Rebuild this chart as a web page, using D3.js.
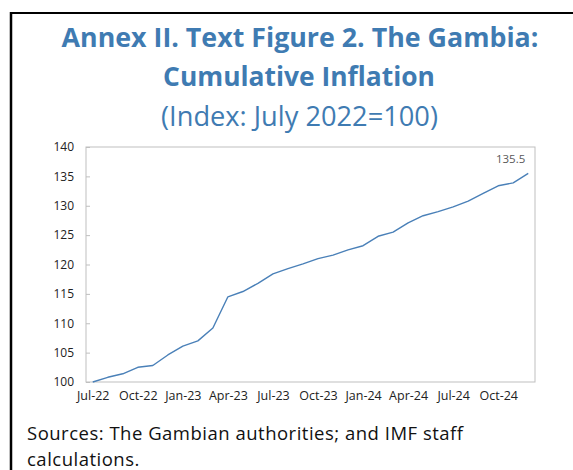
<!DOCTYPE html>
<html>
<head>
<meta charset="utf-8">
<script src="https://cdn.jsdelivr.net/npm/d3@7"></script>
<style>
html, body { margin: 0; padding: 0; background: #fff; }
svg { display: block; }
</style>
</head>
<body>
<svg id="chart" width="573" height="470"></svg>
<script>
// ---- data ----
const months = ["Jul-22","Aug-22","Sep-22","Oct-22","Nov-22","Dec-22",
  "Jan-23","Feb-23","Mar-23","Apr-23","May-23","Jun-23",
  "Jul-23","Aug-23","Sep-23","Oct-23","Nov-23","Dec-23",
  "Jan-24","Feb-24","Mar-24","Apr-24","May-24","Jun-24",
  "Jul-24","Aug-24","Sep-24","Oct-24","Nov-24","Dec-24"];
const cumulativeIndex = [100.0,100.8,101.4,102.5,102.8,104.6,
  106.1,107.0,109.2,114.5,115.4,116.8,
  118.4,119.3,120.1,121.0,121.6,122.5,
  123.2,124.8,125.5,127.1,128.3,129.0,
  129.8,130.8,132.1,133.4,133.9,135.5];
const xTickLabels = ["Jul-22","Oct-22","Jan-23","Apr-23","Jul-23","Oct-23","Jan-24","Apr-24","Jul-24","Oct-24"];
const yTicks = [100,105,110,115,120,125,130,135,140];
const titleLines = ["Annex II. Text Figure 2. The Gambia:", "Cumulative Inflation"];
const subtitle = "(Index: July 2022=100)";
const sourceLines = ["Sources: The Gambian authorities; and IMF staff", "calculations."];
const lastLabel = "135.5";

// ---- layout ----
const svg = d3.select("#chart");
const blue = "#3f7bb2";
const font = "'Open Sans', 'Noto Sans', sans-serif";
const plot = {left: 86, right: 535, top: 147, bottom: 382};

// frame (page box)
svg.append("line").attr("x1", 11).attr("x2", 573).attr("y1", 13).attr("y2", 13)
  .attr("stroke", "#000").attr("stroke-width", 2);
svg.append("line").attr("x1", 11).attr("x2", 11).attr("y1", 12).attr("y2", 470)
  .attr("stroke", "#000").attr("stroke-width", 2.5);

function fitText(sel, targetWidth) {
  const fs = parseFloat(sel.attr("font-size"));
  const w = sel.node().getComputedTextLength();
  sel.attr("font-size", fs * targetWidth / w);
}

// title
const t1 = svg.append("text").attr("x", 300).attr("y", 47).attr("text-anchor", "middle")
  .attr("font-family", font).attr("font-weight", 700).attr("font-size", 24)
  .attr("fill", blue).text(titleLines[0]);
fitText(t1, 477);
const t2 = svg.append("text").attr("x", 299).attr("y", 86).attr("text-anchor", "middle")
  .attr("font-family", font).attr("font-weight", 700).attr("font-size", 24)
  .attr("fill", blue).text(titleLines[1]);
fitText(t2, 272);
const t3 = svg.append("text").attr("x", 299.5).attr("y", 126).attr("text-anchor", "middle")
  .attr("font-family", font).attr("font-weight", 400).attr("font-size", 24)
  .attr("fill", blue).text(subtitle);
fitText(t3, 277);

// scales
const x = d3.scalePoint().domain(months).range([plot.left, plot.right]).padding(0.45);
const y = d3.scaleLinear().domain([100, 140]).range([plot.bottom, plot.top]);

// plot frame
svg.append("rect").attr("x", plot.left).attr("y", plot.top)
  .attr("width", plot.right - plot.left).attr("height", plot.bottom - plot.top)
  .attr("fill", "none").attr("stroke", "#bfbfbf").attr("stroke-width", 1);

// y axis
const yAxis = d3.axisRight(y).tickValues(yTicks).tickSize(4).tickFormat(d3.format("d"));
const gy = svg.append("g").attr("transform", `translate(${plot.left},0)`).call(yAxis);
gy.select(".domain").remove();
gy.selectAll(".tick line").attr("stroke", "#bfbfbf");
gy.selectAll(".tick text").attr("x", -12).attr("text-anchor", "end")
  .attr("font-family", font).attr("font-size", 12).attr("fill", "#222");

// x axis
const xAxis = d3.axisBottom(x).tickValues(xTickLabels).tickSize(0);
const gx = svg.append("g").attr("transform", `translate(0,${plot.bottom})`).call(xAxis);
gx.select(".domain").remove();
gx.selectAll(".tick text").attr("dy", "0.71em").attr("y", 9)
  .attr("font-family", font).attr("font-size", 12.5).attr("fill", "#222");

// line
const line = d3.line().x((d, i) => x(months[i])).y(d => y(d));
svg.append("path").datum(cumulativeIndex).attr("d", line)
  .attr("fill", "none").attr("stroke", "#4a80b8").attr("stroke-width", 1.4)
  .attr("stroke-linejoin", "round");

// last value label
const lastI = cumulativeIndex.length - 1;
svg.append("text").attr("x", x(months[lastI]) - 3).attr("y", y(cumulativeIndex[lastI]) - 10)
  .attr("text-anchor", "end").attr("font-family", font).attr("font-size", 11.5)
  .attr("fill", "#595959").text(lastLabel);

// sources
svg.append("text").attr("x", 27).attr("y", 440)
  .attr("font-family", font).attr("font-size", 18.5).attr("letter-spacing", 0.5)
  .attr("fill", "#111").text(sourceLines[0]);
svg.append("text").attr("x", 27).attr("y", 465.5)
  .attr("font-family", font).attr("font-size", 18.5).attr("letter-spacing", 0.5)
  .attr("fill", "#111").text(sourceLines[1]);
</script>
</body>
</html>
